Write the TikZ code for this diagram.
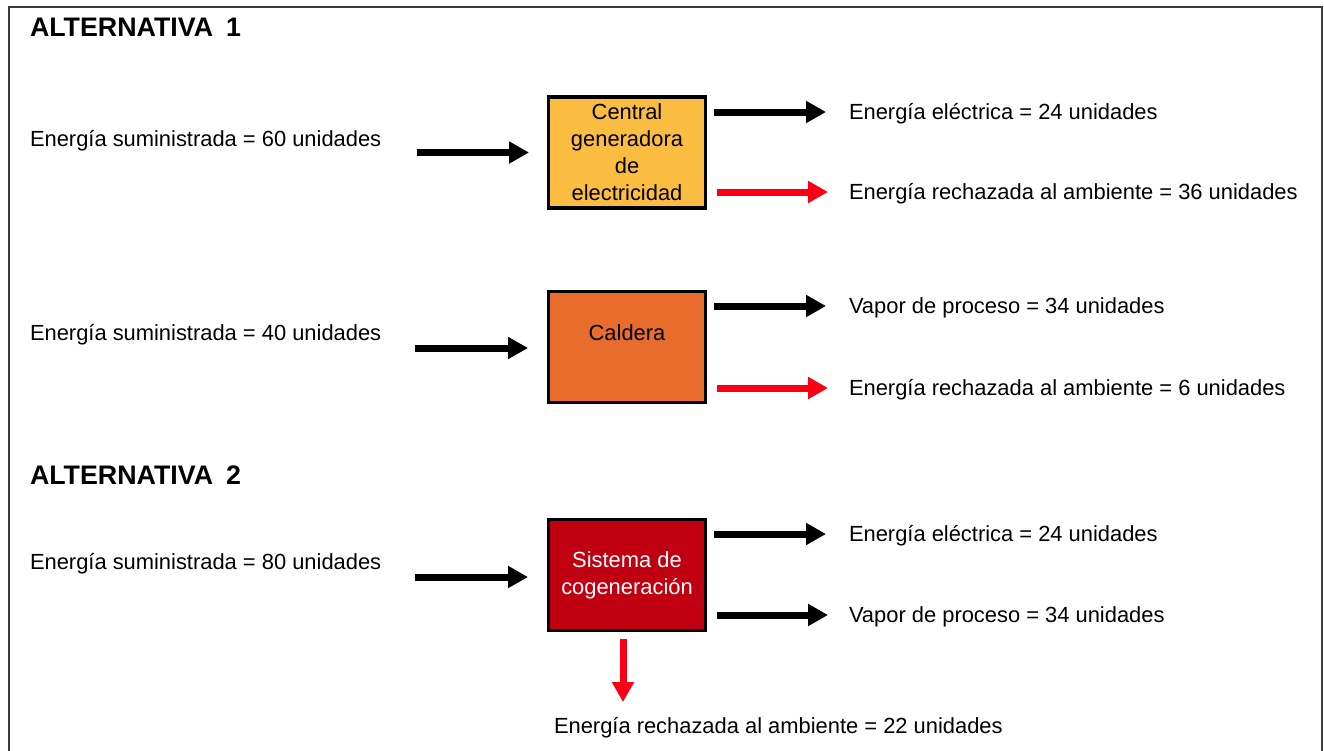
\documentclass[tikz,border=0pt]{standalone}
\usepackage{fontspec}
\setmainfont{Liberation Sans}
\usetikzlibrary{arrows.meta}
\definecolor{boxA}{RGB}{251,188,66}
\definecolor{boxB}{RGB}{232,108,44}
\definecolor{boxC}{RGB}{192,0,16}
\definecolor{redarr}{RGB}{250,0,20}
\definecolor{frame}{RGB}{60,60,60}
\tikzset{
  lbl/.style={inner sep=0pt, outer sep=0pt, anchor=west, text height=15.7pt, text depth=0pt,
    font=\fontsize{21.9}{27}\selectfont},
  ttl/.style={inner sep=0pt, outer sep=0pt, anchor=west, text height=19.2pt, text depth=0pt,
    font=\fontsize{26.8}{30}\selectfont\bfseries},
  procbox/.style={draw=black, line width=3.5pt, minimum width=157pt, minimum height=111pt,
    inner sep=0pt, outer sep=0pt, align=center, font=\fontsize{21.9}{27}\selectfont},
  arr/.style={line width=7pt, -{Triangle[length=20pt,width=21pt]}},
  blackarr/.style={arr, draw=black},
  rejarr/.style={arr, draw=redarr},
}
\begin{document}
\begin{tikzpicture}[x=1pt,y=-1pt]
\useasboundingbox (0,0) rectangle (1324,750);
\fill[white] (0,0) rectangle (1324,750);
\draw[frame, line width=2pt] (9,752) -- (9,7) -- (1322,7) -- (1322,752);

% titles
\node[ttl] (t1) at (30,26.5) {ALTERNATIVA\hspace{13pt}1};
\node[ttl] (t2) at (30,475) {ALTERNATIVA\hspace{13pt}2};

% boxes
\node[procbox, fill=boxA] (b1) at (627,152.5) {Central\\generadora\\de\\electricidad};
\node[procbox, fill=boxB] (b2) at (627,347) {Caldera\\[-6pt]\strut};
\node[procbox, fill=boxC, text=white] (b3) at (627,575) {Sistema de\\cogeneración};

% input labels
\node[lbl] (i1) at (30,139) {Energía suministrada = 60 unidades};
\node[lbl] (i2) at (30,333) {Energía suministrada = 40 unidades};
\node[lbl] (i3) at (30,562) {Energía suministrada = 80 unidades};

% output labels
\node[lbl] (o1) at (849,112) {Energía eléctrica = 24 unidades};
\node[lbl] (r1) at (849,192) {Energía rechazada al ambiente = 36 unidades};
\node[lbl] (o2) at (849,306) {Vapor de proceso = 34 unidades};
\node[lbl] (r2) at (849,388) {Energía rechazada al ambiente = 6 unidades};
\node[lbl] (o3) at (849,534) {Energía eléctrica = 24 unidades};
\node[lbl] (o4) at (849,615) {Vapor de proceso = 34 unidades};
\node[lbl] (r3) at (554,726) {Energía rechazada al ambiente = 22 unidades};

% input arrows
\draw[blackarr] ([xshift=-131.5pt]b1.west) -- ([xshift=-19.5pt]b1.west);
\draw[blackarr] ([xshift=-133.5pt,yshift=-1pt]b2.west) -- ([xshift=-20.5pt,yshift=-1pt]b2.west);
\draw[blackarr] ([xshift=-133.5pt,yshift=-2pt]b3.west) -- ([xshift=-20.5pt,yshift=-2pt]b3.west);

% output arrows
\draw[blackarr, shorten <=8.5pt, shorten >=23pt] (b1.east |- o1.west) -- (o1.west);
\draw[rejarr, shorten <=11pt, shorten >=21pt] (b1.east |- r1.west) -- (r1.west);
\draw[blackarr, shorten <=8.5pt, shorten >=23pt] (b2.east |- o2.west) -- (o2.west);
\draw[rejarr, shorten <=11pt, shorten >=21pt] (b2.east |- r2.west) -- (r2.west);
\draw[blackarr, shorten <=8.5pt, shorten >=23pt] (b3.east |- o3.west) -- (o3.west);
\draw[blackarr, shorten <=11pt, shorten >=21pt] (b3.east |- o4.west) -- (o4.west);

% downward reject arrow
\coordinate (d3) at (623,702);
\draw[rejarr, shorten <=8pt] (d3 |- b3.south) -- (d3);
\end{tikzpicture}
\end{document}
